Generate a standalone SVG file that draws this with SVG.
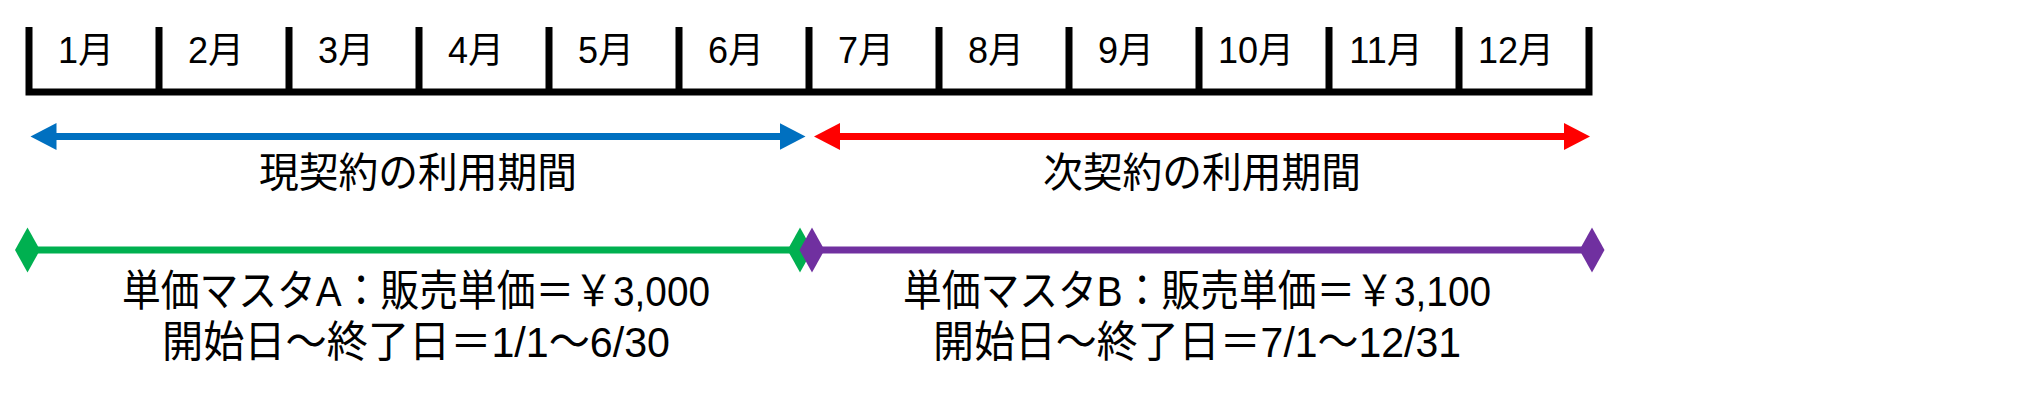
<svg xmlns="http://www.w3.org/2000/svg" width="2029" height="409" viewBox="0 0 2029 409">
<style>
.t{font-family:"Liberation Sans","Noto Sans CJK JP",sans-serif;fill:#000}
.m{font-size:36px;text-anchor:middle}
.l{font-size:41px;text-anchor:middle}
.b{font-size:43px;text-anchor:middle}
.tick{stroke:#000;stroke-width:7;fill:none}
.ln{stroke-width:7;fill:none}
</style>
<defs>
<marker id="ab" viewBox="0 -14 27 28" refX="1" refY="0" markerWidth="27" markerHeight="28" markerUnits="userSpaceOnUse" orient="auto-start-reverse"><path d="M0,-13.5 L26,0 L0,13.5 Z" fill="#0070C0"/></marker>
<marker id="ar" viewBox="0 -14 27 28" refX="1" refY="0" markerWidth="27" markerHeight="28" markerUnits="userSpaceOnUse" orient="auto-start-reverse"><path d="M0,-13.5 L26,0 L0,13.5 Z" fill="#FF0000"/></marker>
<marker id="dg" viewBox="-13 -23 26 46" refX="0" refY="0" markerWidth="26" markerHeight="46" markerUnits="userSpaceOnUse" orient="auto"><path d="M-12.5,0 L0,-22.5 L12.5,0 L0,22.5 Z" fill="#00B050"/></marker>
<marker id="dp" viewBox="-13 -23 26 46" refX="0" refY="0" markerWidth="26" markerHeight="46" markerUnits="userSpaceOnUse" orient="auto"><path d="M-12.5,0 L0,-22.5 L12.5,0 L0,22.5 Z" fill="#7030A0"/></marker>
</defs>
<g id="timeline">
<path class="tick" d="M29,27V92M159,27V92M289,27V92M419,27V92M549,27V92M679,27V92M809,27V92M939,27V92M1069,27V92M1199,27V92M1329,27V92M1459,27V92M1589,27V92M25.5,92H1592.5"/>
<g class="t m">
<text x="86" y="63">1月</text>
<text x="216" y="63">2月</text>
<text x="346" y="63">3月</text>
<text x="476" y="63">4月</text>
<text x="606" y="63">5月</text>
<text x="736" y="63">6月</text>
<text x="866" y="63">7月</text>
<text x="996" y="63">8月</text>
<text x="1126" y="63">9月</text>
<text x="1256" y="63">10月</text>
<text x="1386" y="63">11月</text>
<text x="1516" y="63">12月</text>
</g>
</g>
<g id="connectors">
<path class="ln" stroke="#0070C0" d="M55.5,136.5H780.5" marker-start="url(#ab)" marker-end="url(#ab)"/>
<path class="ln" stroke="#FF0000" d="M839,136.5H1565" marker-start="url(#ar)" marker-end="url(#ar)"/>
<path class="ln" stroke="#00B050" d="M27.5,250H800" marker-start="url(#dg)" marker-end="url(#dg)"/>
<path class="ln" stroke="#7030A0" d="M812,250H1592" marker-start="url(#dp)" marker-end="url(#dp)"/>
</g>
<g id="current-period">
<text class="t l" x="418" y="187" textLength="318" lengthAdjust="spacingAndGlyphs">現契約の利用期間</text>
</g>
<g id="next-period">
<text class="t l" x="1202" y="187" textLength="318" lengthAdjust="spacingAndGlyphs">次契約の利用期間</text>
</g>
<g id="price-master-a">
<text class="t b" x="416" y="306" textLength="588" lengthAdjust="spacingAndGlyphs">単価マスタA：販売単価＝￥3,000</text>
<text class="t b" x="416" y="357" textLength="508" lengthAdjust="spacingAndGlyphs">開始日～終了日＝1/1～6/30</text>
</g>
<g id="price-master-b">
<text class="t b" x="1197" y="306" textLength="588" lengthAdjust="spacingAndGlyphs">単価マスタB：販売単価＝￥3,100</text>
<text class="t b" x="1197" y="357" textLength="528" lengthAdjust="spacingAndGlyphs">開始日～終了日＝7/1～12/31</text>
</g>
</svg>
